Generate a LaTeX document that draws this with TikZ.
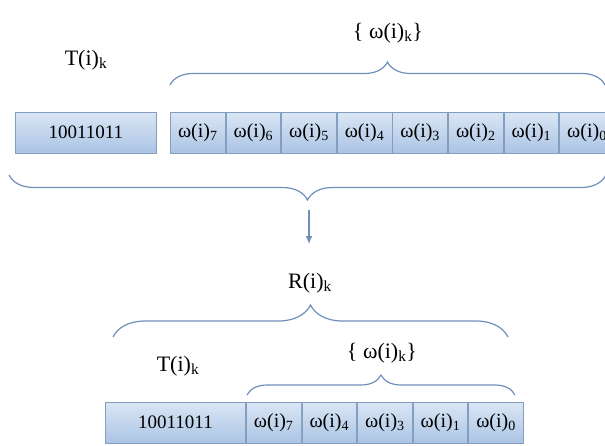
\documentclass[tikz,border=0pt]{standalone}
\usepackage{fontspec}
\setmainfont{Liberation Serif}
\usetikzlibrary{positioning,decorations.pathreplacing,arrows.meta}

\definecolor{celltop}{HTML}{DAE6F5}
\definecolor{cellbot}{HTML}{ABC4E4}
\definecolor{celledge}{HTML}{849EC0}
\definecolor{bracecol}{HTML}{6F8FBA}

\tikzset{
  cell/.style={draw=celledge, line width=0.9pt, top color=celltop,
    bottom color=cellbot, minimum width=54.7pt, minimum height=41pt,
    inner sep=0pt, anchor=west, font=\fontsize{20}{20}\selectfont},
  numbox/.style={cell, minimum width=141pt, font=\fontsize{19}{19}\selectfont},
  brc/.style={draw=bracecol, line width=1.2pt, decorate,
    decoration={brace, amplitude=#1}},
  lbl/.style={font=\fontsize{22}{22}\selectfont}
}

\begin{document}
\begin{tikzpicture}[x=1pt,y=-1pt]
  \useasboundingbox (0,0) rectangle (605,445);
  % top row
  \node[numbox] (num) at (15,132.5) {10011011};
  \node[cell] (w7) at (170,132.5) {ω(i)\textsubscript{7}};
  \node[cell,right=0pt of w7] (w6) {ω(i)\textsubscript{6}};
  \node[cell,right=0pt of w6] (w5) {ω(i)\textsubscript{5}};
  \node[cell,right=0pt of w5] (w4) {ω(i)\textsubscript{4}};
  \node[cell,right=0pt of w4] (w3) {ω(i)\textsubscript{3}};
  \node[cell,right=0pt of w3] (w2) {ω(i)\textsubscript{2}};
  \node[cell,right=0pt of w2] (w1) {ω(i)\textsubscript{1}};
  \node[cell,right=0pt of w1] (w0) {ω(i)\textsubscript{0}};
  \node[lbl] (tlab) at (86,60) {T(i)\textsubscript{k}};
  \node[lbl] (wlab) at (388,33) {\{ ω(i)\textsubscript{k}\}};
  \draw[brc=23pt] (170,85) -- (605,85);
  \draw[brc=25pt] (606,175) -- (9,175);
  % arrow down
  \coordinate (cusp) at (309,210);
  \coordinate (tip) at (309,244);
  \draw[bracecol, line width=1.2pt, -{Latex[length=8pt,width=7pt]}] (cusp) -- (tip);
  % bottom row
  \node[lbl] (rlab) at (310,283) {R(i)\textsubscript{k}};
  \draw[brc=32pt] (113,337) -- (508,337);
  \node[lbl] (tlab2) at (178,366) {T(i)\textsubscript{k}};
  \node[lbl] (wlab2) at (382,353) {\{ ω(i)\textsubscript{k}\}};
  \draw[brc=20pt] (247,395) -- (515,395);
  \node[numbox, minimum width=140pt] (num2) at (105,422.5) {10011011};
  \node[cell,right=0pt of num2] (v7) {ω(i)\textsubscript{7}};
  \node[cell,right=0pt of v7] (v4) {ω(i)\textsubscript{4}};
  \node[cell,right=0pt of v4] (v3) {ω(i)\textsubscript{3}};
  \node[cell,right=0pt of v3] (v1) {ω(i)\textsubscript{1}};
  \node[cell,right=0pt of v1] (v0) {ω(i)\textsubscript{0}};
\end{tikzpicture}
\end{document}
